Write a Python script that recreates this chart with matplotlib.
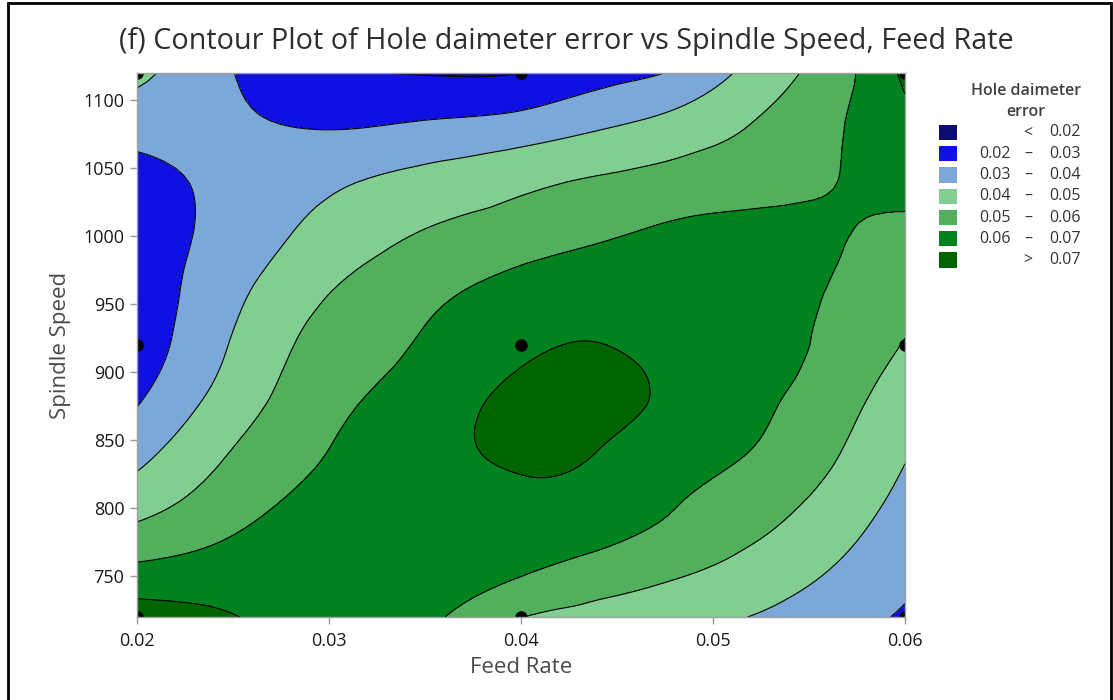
import numpy as np
import matplotlib.pyplot as plt
import matplotlib.tri as mtri
from matplotlib.patches import Rectangle

plt.rcParams['font.family'] = ['Open Sans', 'DejaVu Sans']

feed = [0.020, 0.024, 0.028, 0.032, 0.036, 0.040, 0.044, 0.048, 0.052, 0.056, 0.060]
speed = [720, 760, 800, 840, 880, 920, 960, 1000, 1040, 1080, 1120]

# hole diameter error, one row per spindle speed (720 -> 1120)
error = [
    [0.0750, 0.0715, 0.0675, 0.0660, 0.0601, 0.0503, 0.0467, 0.0432, 0.0398, 0.0345, 0.0290],
    [0.0601, 0.0630, 0.0655, 0.0660, 0.0655, 0.0625, 0.0575, 0.0529, 0.0477, 0.0409, 0.0330],
    [0.0470, 0.0546, 0.0613, 0.0645, 0.0668, 0.0680, 0.0665, 0.0601, 0.0542, 0.0465, 0.0368],
    [0.0370, 0.0481, 0.0570, 0.0630, 0.0679, 0.0715, 0.0698, 0.0646, 0.0597, 0.0516, 0.0407],
    [0.0290, 0.0418, 0.0528, 0.0604, 0.0665, 0.0725, 0.0728, 0.0681, 0.0626, 0.0549, 0.0449],
    [0.0245, 0.0375, 0.0496, 0.0566, 0.0625, 0.0680, 0.0702, 0.0670, 0.0645, 0.0580, 0.0495],
    [0.0238, 0.0348, 0.0454, 0.0531, 0.0588, 0.0635, 0.0660, 0.0650, 0.0630, 0.0598, 0.0534],
    [0.0245, 0.0321, 0.0401, 0.0470, 0.0520, 0.0555, 0.0590, 0.0620, 0.0622, 0.0608, 0.0579],
    [0.0260, 0.0316, 0.0360, 0.0405, 0.0441, 0.0477, 0.0511, 0.0539, 0.0568, 0.0597, 0.0624],
    [0.0340, 0.0325, 0.0301, 0.0300, 0.0322, 0.0346, 0.0392, 0.0439, 0.0505, 0.0583, 0.0671],
    [0.0420, 0.0330, 0.0230, 0.0201, 0.0193, 0.0201, 0.0260, 0.0310, 0.0430, 0.0545, 0.0720],
]

# design points
pt_feed = [0.02, 0.04, 0.06]
pt_speed = [720, 920, 1120]

levels = [0.02, 0.03, 0.04, 0.05, 0.06, 0.07]
band_labels = [("", "<", "0.02"), ("0.02", "\u2013", "0.03"), ("0.03", "\u2013", "0.04"),
               ("0.04", "\u2013", "0.05"), ("0.05", "\u2013", "0.06"), ("0.06", "\u2013", "0.07"),
               ("", ">", "0.07")]
colors = ['#0B0B72', '#1010E2', '#7BA7D9', '#82CD91', '#52AF5C', '#00821F', '#006400']

W, H = 1113, 700
fig = plt.figure(figsize=(W / 100, H / 100), dpi=100)
ax = fig.add_axes([137 / W, 1 - 617 / H, 768 / W, 544 / H])

# triangulate in scaled units so both axes count the same, then smooth the surface
X, Y = np.meshgrid(feed, speed)
Z = np.array(error)
xs = (X.ravel() - 0.02) / 0.04
ys = (Y.ravel() - 720) / 400.0
tri = mtri.Triangulation(xs, ys)
refiner = mtri.UniformTriRefiner(tri)
tri_f, z_f = refiner.refine_field(Z.ravel(), subdiv=3)
tri_f = mtri.Triangulation(0.02 + tri_f.x * 0.04, 720 + tri_f.y * 400.0, tri_f.triangles)

ax.tricontourf(tri_f, z_f, levels=[-1] + levels + [1], colors=colors)
ax.tricontour(tri_f, z_f, levels=levels, colors='black', linewidths=0.8)

PX, PY = np.meshgrid(pt_feed, pt_speed)
ax.plot(PX.ravel(), PY.ravel(), 'o', color='black', markersize=8, clip_on=True)

ax.set_xlim(0.02, 0.06)
ax.set_ylim(720, 1120)
ax.set_xticks([0.02, 0.03, 0.04, 0.05, 0.06])
ax.set_xticklabels(["0.02", "0.03", "0.04", "0.05", "0.06"])
ax.set_yticks([750, 800, 850, 900, 950, 1000, 1050, 1100])
ax.tick_params(colors='#999999', labelcolor='#1a1a1a', labelsize=13, length=5, width=1, pad=4)
ax.tick_params(axis='x', pad=6)
for s in ax.spines.values():
    s.set_color('#a0a0a0')
    s.set_linewidth(1)
ax.set_xlabel("Feed Rate", fontsize=16, color='#4a4a4a', labelpad=5)
ax.set_ylabel("Spindle Speed", fontsize=16, color='#4a4a4a', labelpad=9)

fig.text(566 / W, 1 - 42 / H, "(f) Contour Plot of Hole daimeter error vs Spindle Speed, Feed Rate",
         ha='center', va='center', fontsize=20.7, color='#2e2e2e')

# legend
fig.text(1026 / W, 1 - 91 / H, "Hole daimeter", ha='center', va='center', fontsize=11.5,
         color='#404040', fontweight='semibold')
fig.text(1026 / W, 1 - 112 / H, "error", ha='center', va='center', fontsize=11.5,
         color='#404040', fontweight='semibold')
for i, (c, (a, m, b)) in enumerate(zip(colors, band_labels)):
    yc = 132.5 + 21.25 * i
    fig.patches.append(Rectangle((939 / W, 1 - (yc + 7.5) / H), 18 / W, 15 / H,
                                 transform=fig.transFigure, facecolor=c, edgecolor='none'))
    kw = dict(va='center', fontsize=11.5, color='#333333')
    fig.text(1011 / W, 1 - yc / H, a, ha='right', **kw)
    fig.text(1028 / W, 1 - yc / H, m, ha='center', **kw)
    fig.text(1049 / W, 1 - yc / H, b, ha='left', **kw)

# outer frame
fig.patches.append(Rectangle((8 / W, -0.05), 1103 / W, 1.05 - 3 / H, transform=fig.transFigure,
                             facecolor='none', edgecolor='black', linewidth=2))

fig.savefig("out.png", dpi=100)
